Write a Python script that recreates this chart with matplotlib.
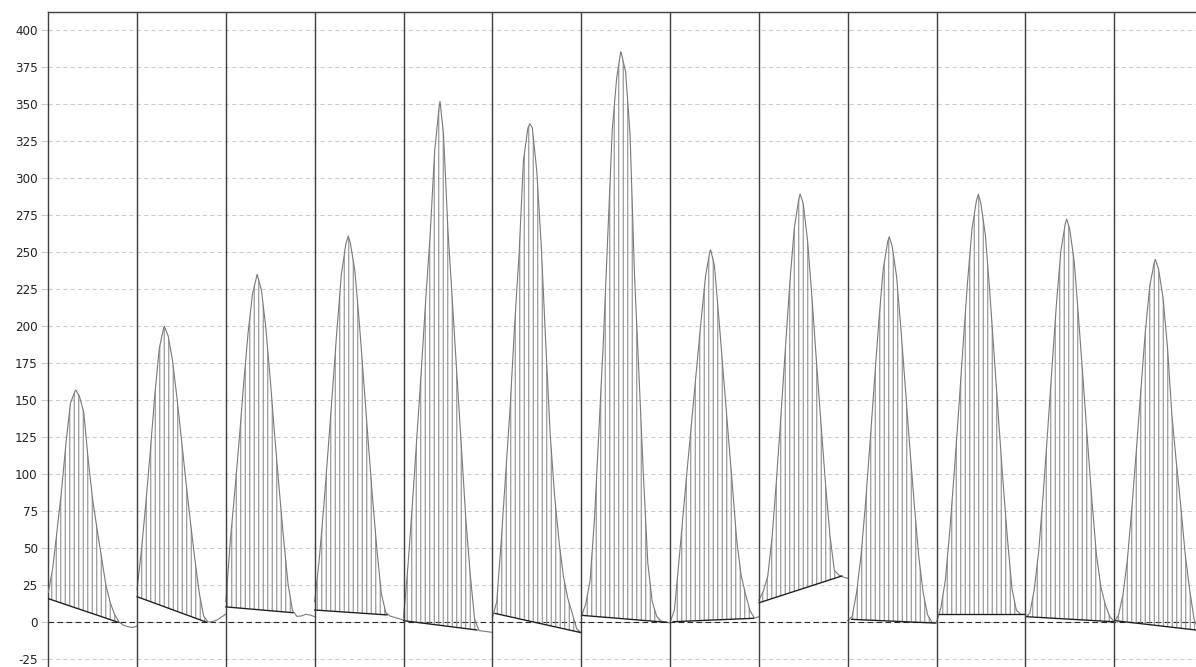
import matplotlib
matplotlib.use("Agg")
import matplotlib.pyplot as plt
import numpy as np

plt.rcParams["axes.unicode_minus"] = False
plt.rcParams["hatch.linewidth"] = 0.75
plt.rcParams["hatch.color"] = "#909090"

# curve values, 21 samples per run (panel)
run01 = [20, 36, 62, 89, 121, 148, 156, 153, 142, 110, 83, 63, 44, 25, 13, 5, 0, -2, -3, -3.5, -2.5]
run02 = [22, 49, 81, 116, 153.5, 185, 199, 193.6, 176.8, 151.4, 123.6, 95.4, 68.5, 43.2, 20.1, 4.2, 0.2, 0.5, 1.5, 3.5, 5.6]
run03 = [14, 55, 88, 123, 161, 195.4, 222, 234.5, 224.5, 199, 164, 126, 90.4, 56.4, 26, 8, 4, 4.3, 5.4, 4.9, 3.8]
run04 = [14, 41.7, 76.6, 115.7, 156, 197.3, 235, 255.5, 256.7, 238.6, 204.3, 164.5, 124, 85, 49.5, 19.5, 6.6, 4.2, 3.3, 2.4, 1.6]
run05 = [3, 38, 80, 125, 170, 218, 262, 318, 348, 330, 265, 217, 168, 120, 71, 33, 2, -5.6, -6.0, -6.4, -6.8]
run06 = [3, 14, 55, 100, 145, 200, 248, 312, 334, 334, 305, 255, 190, 128, 86, 55, 31, 16, 6, -4.5, -7]
run07 = [4, 12, 28, 70, 130, 190, 262, 333, 368, 385, 372, 330, 235, 168, 100, 40, 14, 4, 0.8, 0.2, -0.5]
run08 = [-0.3, 8.5, 41, 74.6, 107.7, 139.7, 172, 204, 234, 251, 241, 205.6, 168, 131, 94, 56, 32, 19, 8, 2.8, 3.8]
run09 = [15, 21, 31, 58.3, 97.4, 141, 186, 230.5, 266.8, 286, 283, 257, 218, 175, 134, 94, 59, 35, 32, 30.5, 29.7]
run10 = [1, 4, 20, 45, 79.5, 120, 161.7, 203, 238.6, 257, 254.4, 234, 197.8, 158, 118, 79.6, 44.7, 20, 5, 0, -0.5]
run11 = [0, 10, 28.7, 62.2, 101.6, 143.6, 188, 230.4, 266, 285, 283, 261.7, 223, 179.7, 136, 94, 55.6, 22.4, 8, 5.4, 5.4]
run12 = [3.5, 6, 22, 47.6, 85.8, 128, 172, 215, 251, 269.4, 265.6, 244, 205, 164, 122.5, 82, 46, 24, 12, 4, 0.4]
run13 = [0.4, 5, 19, 43, 78, 116.4, 156.6, 195.8, 227, 242.8, 238.6, 219.4, 186, 140, 108, 78.6, 45.8, 22, 2, -5.5, -5.8]
runs = [run01, run02, run03, run04, run05, run06, run07, run08, run09, run10, run11, run12, run13]

# apex of every peak (position inside run, height)
peak_x = [0.310, 0.307, 0.353, 0.378, 0.411, 0.423, 0.445, 0.458, 0.464, 0.468, 0.471, 0.466, 0.463]
peak_y = [157, 200, 235, 261, 352, 337, 385.5, 251.6, 289.4, 260.5, 289.2, 272.5, 245.3]

# integration baseline of every peak
base_x0 = [0.0, 0.0, 0.0, 0.0, 0.0, 0.030, 0.006, 0.037, 0.003, 0.045, 0.023, 0.011, 0.009]
base_y0 = [16, 17.3, 10.4, 8.3, 1.1, 6.0, 4.7, 0.4, 13.2, 2.0, 5.4, 3.8, 1.1]
base_x1 = [0.789, 0.785, 0.755, 0.813, 0.826, 1.0, 0.963, 0.938, 0.934, 0.983, 1.0, 0.991, 0.921]
base_y1 = [0, 0, 6.5, 5.0, -5.2, -7.0, 0.0, 2.7, 31.3, -0.5, 5.4, 0.4, -5.2]

yticks = list(range(400, -26, -25))

grid = np.linspace(0, 1, 21)
curve_col = "#7a7a7a"
hatch_col = "#909090"
sep_col = "#404040"

dpi = 108
fig = plt.figure(figsize=(1196 / dpi, 667 / dpi), dpi=dpi, facecolor="white")
ax = fig.add_axes([48.2 / 1196, 0, 1147.8 / 1196, 654.7 / 667])

for i, vals in enumerate(runs):
    xs = np.append(grid, peak_x[i])
    ys = np.append(np.array(vals, float), peak_y[i])
    order = np.argsort(xs)
    xs, ys = xs[order], ys[order]

    # hatched area between curve and baseline
    m = (xs > base_x0[i]) & (xs < base_x1[i])
    poly_x = np.concatenate([[base_x0[i]], xs[m], [base_x1[i]]]) + i
    poly_y = np.concatenate([[base_y0[i]], ys[m], [base_y1[i]]])
    ax.fill(poly_x, poly_y, facecolor="none", edgecolor=hatch_col,
            hatch="||||", lw=0, zorder=2)

    ax.plot(xs + i, ys, color=curve_col, lw=0.75, zorder=3)
    ax.plot([base_x0[i] + i, base_x1[i] + i], [base_y0[i], base_y1[i]],
            color="#1e1e1e", lw=0.9, zorder=4)

for i in range(1, len(runs)):
    ax.axvline(i, color=sep_col, lw=0.95, zorder=5)

ax.axhline(0, color="#2a2a2a", lw=0.75, ls=(0, (5, 3)), zorder=1.5)

ax.set_xlim(0, 1147.8 / 88.83)
ax.set_ylim(-30.2, 412.2)
ax.set_yticks(yticks)
ax.set_xticks([])
ax.yaxis.grid(True, color="#cccccc", lw=0.7, ls=(0, (4, 3)))
ax.set_axisbelow(True)
ax.tick_params(axis="y", length=5, width=0.7, color="#cccccc",
               pad=2, labelsize=8, labelcolor="#222222")

for side in ["right", "bottom"]:
    ax.spines[side].set_visible(False)
for side in ["left", "top"]:
    ax.spines[side].set_color(sep_col)
    ax.spines[side].set_linewidth(0.95)

fig.savefig("out.png", dpi=dpi, facecolor="white")
